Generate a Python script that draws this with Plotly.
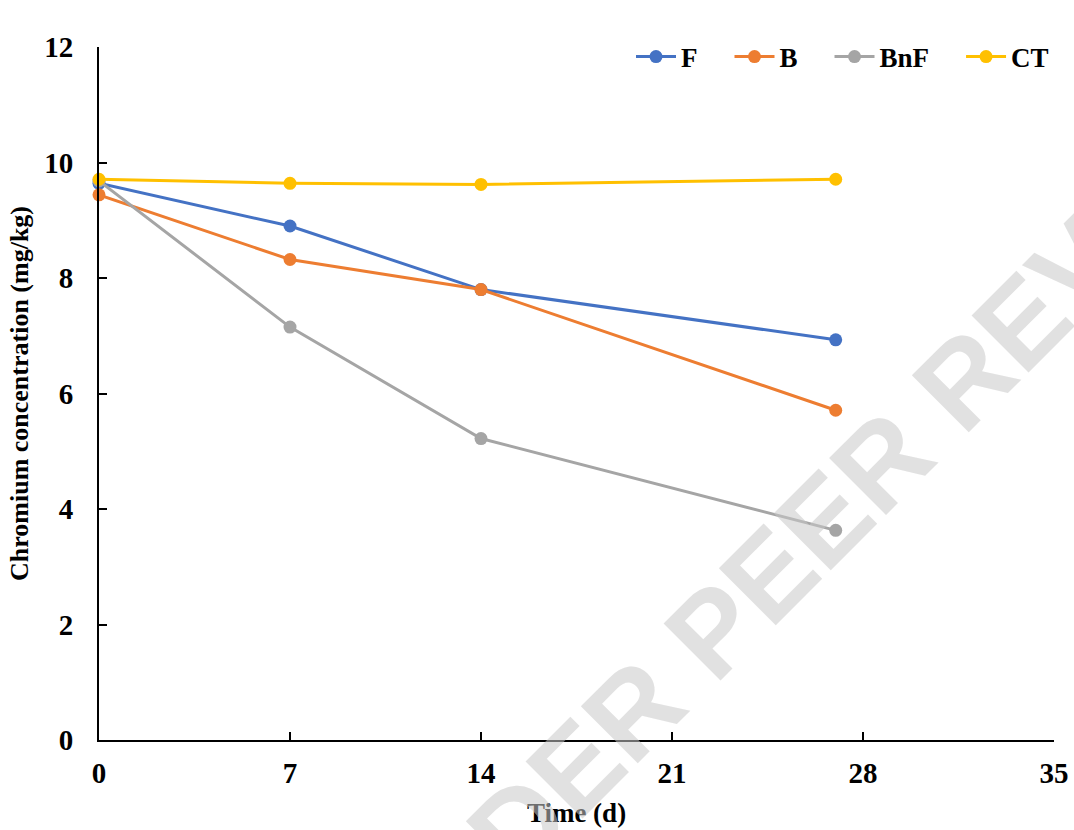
import plotly.graph_objects as go

days = [0, 7, 14, 27]
series_names = ["F", "B", "BnF", "CT"]
F_vals = [9.64, 8.90, 7.80, 6.93]
B_vals = [9.44, 8.32, 7.80, 5.71]
BnF_vals = [9.68, 7.15, 5.22, 3.63]
CT_vals = [9.71, 9.64, 9.62, 9.71]
colors = ["#4472C4", "#ED7D31", "#A5A5A5", "#FFC000"]
x_ticks = [0, 7, 14, 21, 28, 35]
y_ticks = [0, 2, 4, 6, 8, 10, 12]

font_family = "Liberation Serif"
pad = "\u00a0" * 4

fig = go.Figure()
series = [F_vals, B_vals, BnF_vals, CT_vals]
for i, (name, vals, col) in enumerate(zip(series_names, series, colors)):
    label = name if i == len(series_names) - 1 else name + pad
    fig.add_trace(go.Scatter(
        x=days, y=vals, name=label, mode="lines+markers",
        line=dict(color=col, width=3),
        marker=dict(color=col, size=13),
        cliponaxis=False,
    ))

fig.add_annotation(
    text="UNDER PEER REVIEW", xref="paper", yref="paper",
    x=(815 - 99) / 955, y=(740 - 528) / 693,
    xanchor="center", yanchor="middle",
    showarrow=False, textangle=-45,
    font=dict(family="Liberation Sans", size=117, color="rgba(200,200,200,0.55)", weight="bold"),
)

axis_common = dict(
    showline=True, linecolor="black", linewidth=2,
    ticks="inside", ticklen=8, tickwidth=1.5, tickcolor="black",
    showgrid=False, zeroline=False, automargin=False,
    tickfont=dict(family=font_family, size=29, color="black", weight="bold"),
)

fig.update_layout(
    width=1074, height=830,
    margin=dict(l=99, r=20, t=47, b=90),
    plot_bgcolor="white", paper_bgcolor="white",
    font=dict(family=font_family, color="black"),
    showlegend=True,
    legend=dict(
        orientation="h", x=1.0, xanchor="right", y=1 - 10 / 693, yanchor="middle",
        font=dict(family=font_family, size=27, color="black", weight="bold"),
        bgcolor="rgba(0,0,0,0)", itemwidth=40,
    ),
    xaxis=dict(
        range=[0, 35], tickvals=x_ticks, ticktext=[str(v) for v in x_ticks],
        title=dict(text="Time (d)", font=dict(family=font_family, size=27, color="black", weight="bold"), standoff=15),
        ticklabelstandoff=6,
        **axis_common,
    ),
    yaxis=dict(
        range=[0, 12], tickvals=y_ticks, ticktext=[str(v) for v in y_ticks],
        title=dict(text="Chromium concentration (mg/kg)", font=dict(family=font_family, size=26, color="black", weight="bold"), standoff=8),
        ticklabelstandoff=18,
        **axis_common,
    ),
)

fig.write_html("out.html")
